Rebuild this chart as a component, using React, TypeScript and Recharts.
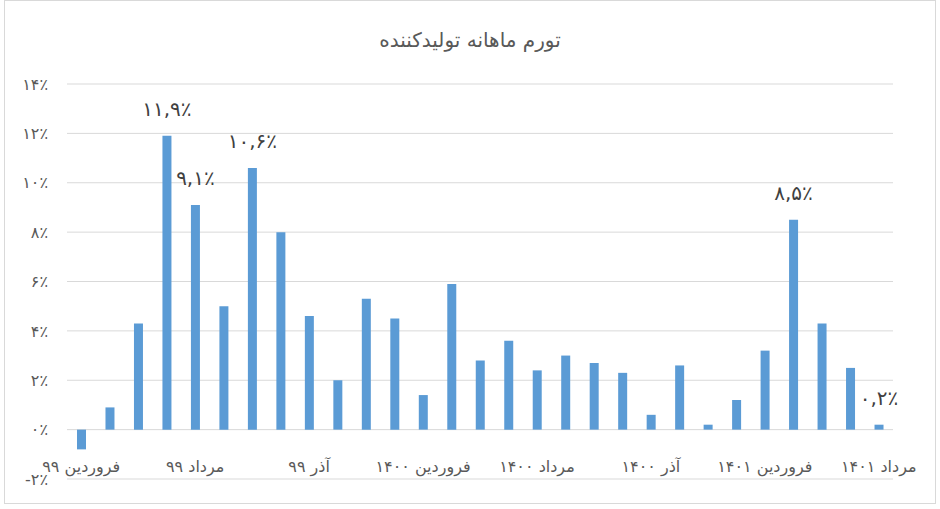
import { BarChart, Bar, XAxis, YAxis, CartesianGrid, LabelList } from "recharts";

// ماه‌ها از فروردین ۹۹ تا مرداد ۱۴۰۱
const months = [
  "فروردین ۹۹", "اردیبهشت ۹۹", "خرداد ۹۹", "تیر ۹۹", "مرداد ۹۹", "شهریور ۹۹",
  "مهر ۹۹", "آبان ۹۹", "آذر ۹۹", "دی ۹۹", "بهمن ۹۹", "اسفند ۹۹",
  "فروردین ۱۴۰۰", "اردیبهشت ۱۴۰۰", "خرداد ۱۴۰۰", "تیر ۱۴۰۰", "مرداد ۱۴۰۰", "شهریور ۱۴۰۰",
  "مهر ۱۴۰۰", "آبان ۱۴۰۰", "آذر ۱۴۰۰", "دی ۱۴۰۰", "بهمن ۱۴۰۰", "اسفند ۱۴۰۰",
  "فروردین ۱۴۰۱", "اردیبهشت ۱۴۰۱", "خرداد ۱۴۰۱", "تیر ۱۴۰۱", "مرداد ۱۴۰۱",
];

// تورم ماهانه (درصد)
const inflation = [
  -0.8, 0.9, 4.3, 11.9, 9.1, 5.0, 10.6, 8.0, 4.6, 2.0, 5.3, 4.5,
  1.4, 5.9, 2.8, 3.6, 2.4, 3.0, 2.7, 2.3, 0.6, 2.6, 0.2, 1.2,
  3.2, 8.5, 4.3, 2.5, 0.2,
];

// only these bars carry a value label
const labeledMonths = ["تیر ۹۹", "مرداد ۹۹", "مهر ۹۹", "اردیبهشت ۱۴۰۱", "مرداد ۱۴۰۱"];

const yTicks = [-2, 0, 2, 4, 6, 8, 10, 12, 14];

const faDigits = "۰۱۲۳۴۵۶۷۸۹";
const toFa = (s: string) => s.replace(/[0-9]/g, (d) => faDigits[Number(d)]);

const fmtTick = (v: number) => (v < 0 ? "-" : "") + toFa(String(Math.abs(v))) + "٪";
const fmtValue = (v: number) => toFa(v.toFixed(1).replace(".", ",")) + "٪";

const data = months.map((m, i) => ({
  month: m,
  value: inflation[i],
  label: labeledMonths.includes(m) ? fmtValue(inflation[i]) : "",
}));

const FONT = "'DejaVu Sans', 'Noto Sans', sans-serif";

const MonthTick = (props: any) => {
  const { x, y, payload } = props;
  return (
    <text x={x} y={y - 15} textAnchor="middle" fill="#595959" fontSize={16} fontFamily={FONT}>
      {payload.value}
    </text>
  );
};

const ValueLabel = (props: any) => {
  const { x, y, width, value } = props;
  if (!value) return null;
  return (
    <text x={x + width / 2} y={y - 20} textAnchor="middle" fill="#404040" fontSize={20} fontFamily={FONT}>
      {value}
    </text>
  );
};

export default function App() {
  return (
    <div style={{ position: "absolute", left: 0, top: 0, width: 940, height: 509, background: "#fff" }}>
      <div
        style={{
          position: "absolute",
          left: 4,
          top: 0,
          width: 930,
          height: 502,
          border: "1px solid #d9d9d9",
        }}
      />
      <div
        style={{
          position: "absolute",
          left: 0,
          top: 28,
          width: 940,
          textAlign: "center",
          direction: "rtl",
          fontFamily: FONT,
          fontSize: 20,
          color: "#595959",
        }}
      >
        تورم ماهانه تولیدکننده
      </div>
      <div style={{ position: "absolute", left: 0, top: 0 }}>
        <BarChart width={940} height={509} data={data} margin={{ top: 84, right: 47, bottom: 0, left: 0 }}>
          <CartesianGrid vertical={false} stroke="#d9d9d9" />
          <XAxis
            dataKey="month"
            interval={3}
            axisLine={false}
            tickLine={false}
            height={30}
            tick={<MonthTick />}
          />
          <YAxis
            domain={[-2, 14]}
            ticks={yTicks}
            width={67}
            axisLine={false}
            tickLine={false}
            tickSize={0}
            tickMargin={19}
            tickFormatter={fmtTick}
            tick={{ fill: "#595959", fontSize: 16, fontFamily: FONT }}
          />
          <Bar dataKey="value" fill="#5B9BD5" barSize={9} isAnimationActive={false}>
            <LabelList dataKey="label" content={<ValueLabel />} />
          </Bar>
        </BarChart>
      </div>
    </div>
  );
}
